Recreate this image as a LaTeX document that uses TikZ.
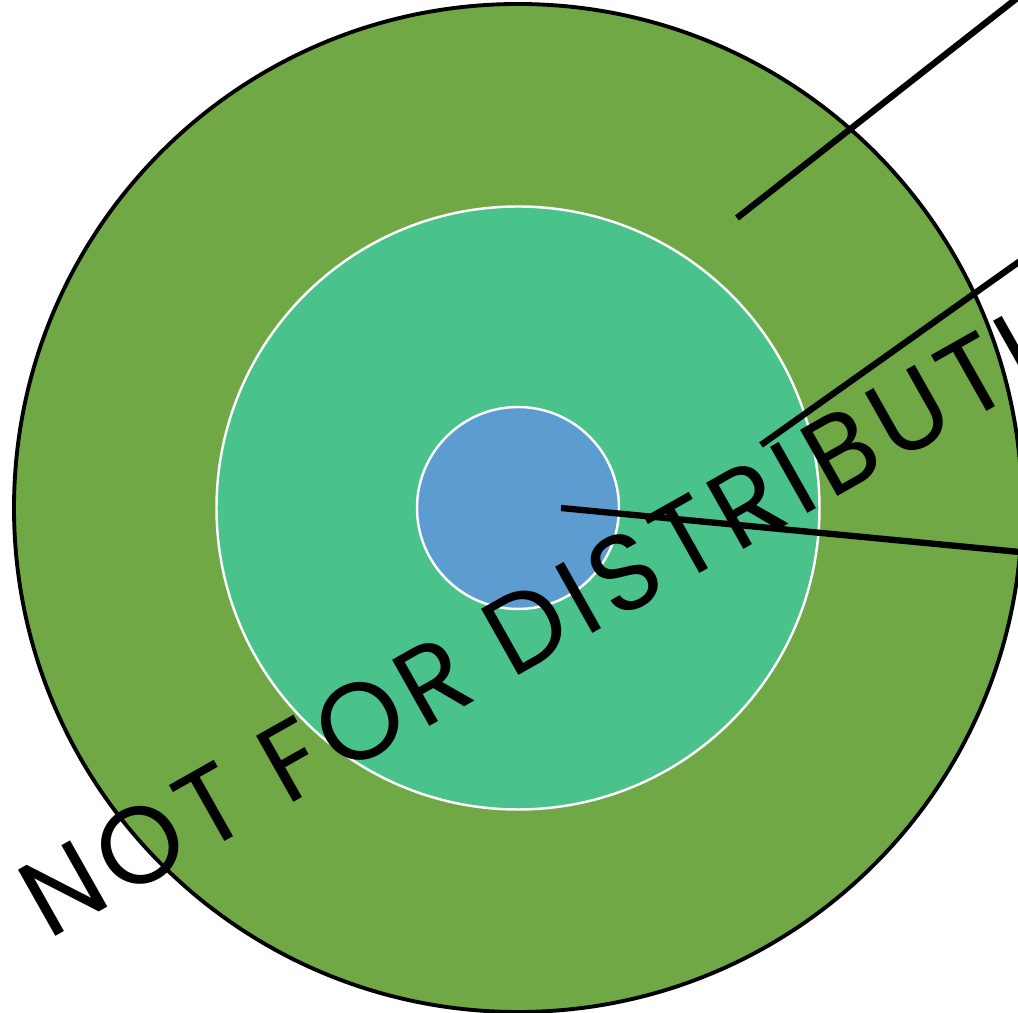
\documentclass[tikz,border=0pt]{standalone}
\usepackage{fontspec}
\setmainfont{Poppins}[LetterSpace=7]
\usepackage{tikz}
\usetikzlibrary{positioning}
\definecolor{ringgreen}{rgb}{0.44, 0.66, 0.27}
\definecolor{midgreen}{rgb}{0.29, 0.76, 0.55}
\definecolor{coreblue}{rgb}{0.36, 0.61, 0.82}
\tikzset{
  ring/.style={
    circle,
    draw=white,
    line width=0.7pt,
    inner sep=0pt
  },
  leader/.style={
    line width=1.8pt,
    black
  },
  stamp/.style={
    font=\fontsize{31}{36}\selectfont,
    inner sep=0pt,
    anchor=base west,
    rotate=29.4
  }
}
\begin{document}
\begin{tikzpicture}
\useasboundingbox (0,0) rectangle (10.18,10.13);
\clip (0,0) rectangle (10.18,10.13);
\node[ring, draw=black, line width=1.1pt, fill=ringgreen, minimum size=10.08cm] (outer) at (5.18,5.05) {};
\node[ring, fill=midgreen, minimum size=6.03cm] (middle) at (outer.center) {};
\node[ring, fill=coreblue, minimum size=2.02cm] (core) at (outer.center) {};
% leader lines
\coordinate (p1) at (7.37,7.95);
\coordinate (q1) at (10.30,10.25);
\coordinate (p2) at (7.61,5.68);
\coordinate (q2) at (10.30,7.59);
\coordinate (p3) at (5.61,5.05);
\coordinate (q3) at (10.30,4.60);
\draw[leader] (p1) -- (q1);
\draw[leader] (p2) -- (q2);
\draw[leader] (p3) -- (q3);
\node[stamp] (mark) at (0.48,0.72) {NOT FOR DISTRIBUTION};
\end{tikzpicture}
\end{document}
